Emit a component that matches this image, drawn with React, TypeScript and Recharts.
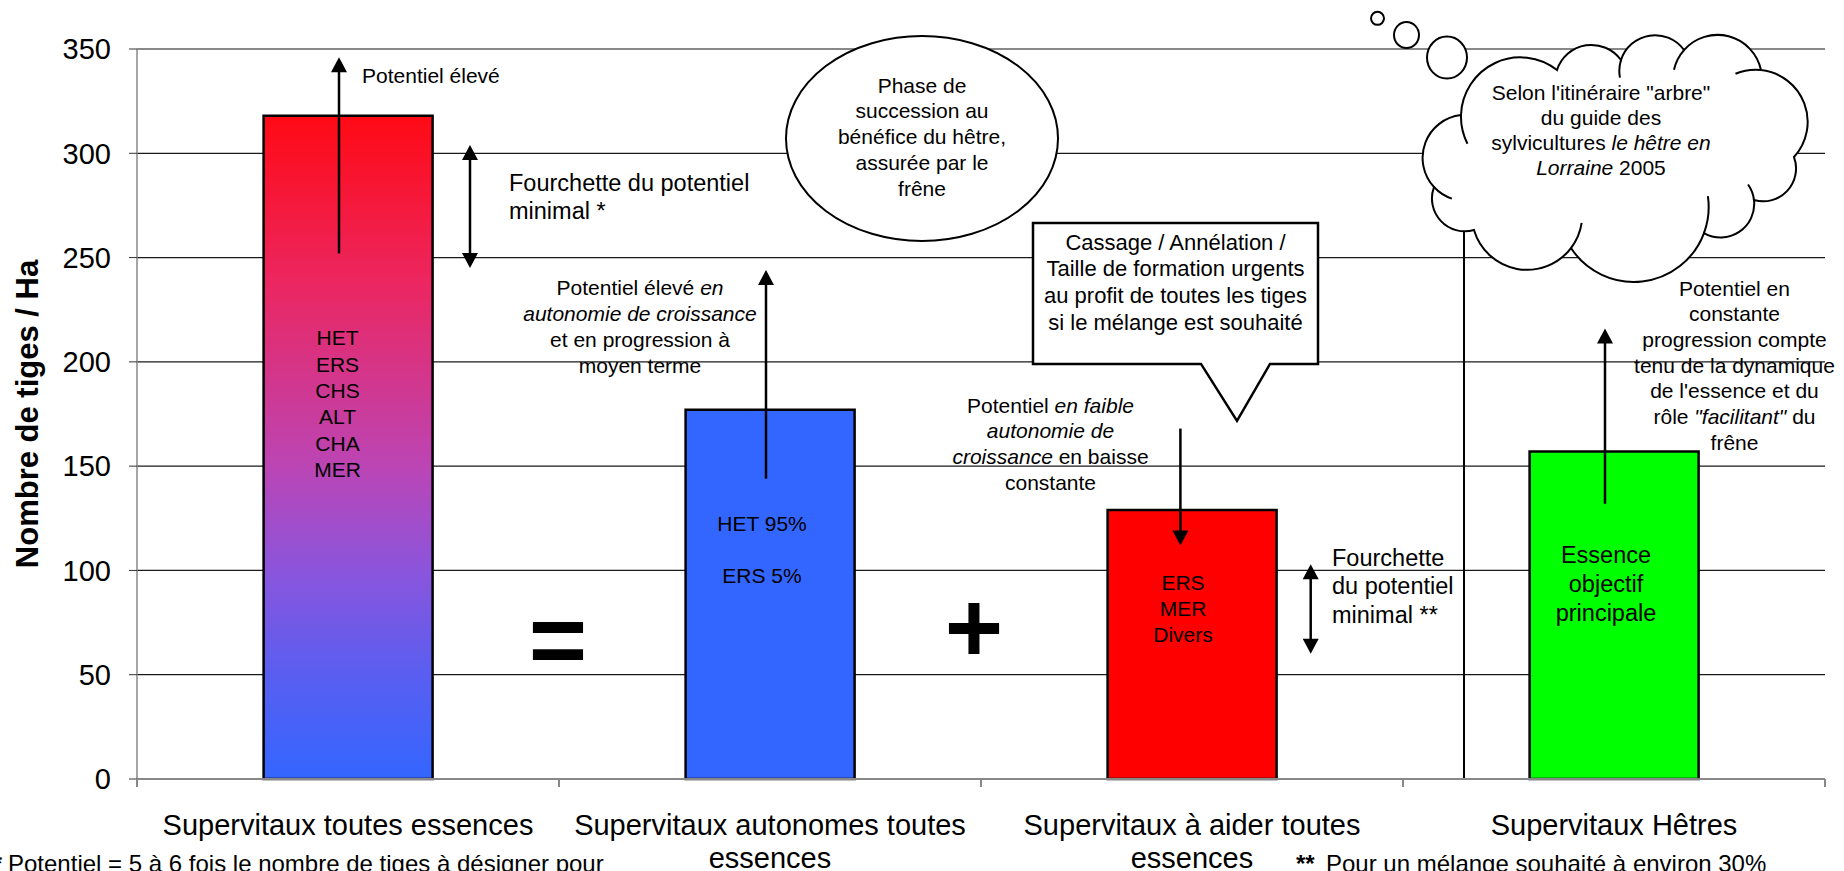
import React from "react";
import {
  BarChart,
  Bar,
  XAxis,
  YAxis,
  CartesianGrid,
  Cell,
  ReferenceLine,
  ReferenceDot,
} from "recharts";

const FONT = "'Liberation Sans', Arial, Helvetica, sans-serif";

// values
const categories = [
  "Supervitaux toutes essences",
  "Supervitaux autonomes toutes essences",
  "Supervitaux à aider toutes essences",
  "Supervitaux Hêtres",
];
const categoryLines = [
  ["Supervitaux toutes essences"],
  ["Supervitaux autonomes toutes", "essences"],
  ["Supervitaux à aider toutes", "essences"],
  ["Supervitaux Hêtres"],
];
const stemsPerHa = [318, 177, 129, 157];
const yTicks = [0, 50, 100, 150, 200, 250, 300, 350];
const barFills = ["url(#gradAll)", "#3366FF", "#FF0000", "#00FF00"];

// texts inside the bars ( _ toggles italic )
const barTexts = [
  ["HET", "ERS", "CHS", "ALT", "CHA", "MER"],
  ["HET 95%", "", "ERS 5%"],
  ["ERS", "MER", "Divers"],
  ["Essence", "objectif", "principale"],
];

const noteHigh = ["Potentiel élevé"];
const noteRange1 = ["Fourchette du potentiel", "minimal *"];
const noteEllipse = ["Phase de", "succession au", "bénéfice du hêtre,", "assurée par le", "frêne"];
const noteAuto = ["Potentiel élevé _en_", "_autonomie de croissance_", "et en progression à", "moyen terme"];
const noteCallout = [
  "Cassage / Annélation /",
  "Taille de formation urgents",
  "au profit de toutes les tiges",
  "si le mélange est souhaité",
];
const noteLow = ["Potentiel _en faible_", "_autonomie de_", "_croissance_ en baisse", "constante"];
const noteRange2 = ["Fourchette", "du potentiel", "minimal **"];
const noteCloud = ["Selon l'itinéraire \"arbre\"", "du guide des", "sylvicultures _le hêtre en_", "_Lorraine_ 2005"];
const noteBeech = [
  "Potentiel en",
  "constante",
  "progression compte",
  "tenu de la dynamique",
  "de l'essence et du",
  "rôle _\"facilitant\"_ du",
  "frêne",
];

const data = categories.map((name, i) => ({ name, stems: stemsPerHa[i] }));

function TextBlock({ cx, cy, lines, size = 21, lh = 25.8, anchor = "middle", weight = "normal" }: any) {
  return (
    <text
      fontFamily={FONT}
      fontSize={size}
      fill="#000"
      textAnchor={anchor}
      fontWeight={weight}
      style={{ whiteSpace: "pre" }}
    >
      {lines.map((ln: string, i: number) => (
        <tspan key={i} x={cx} y={cy + i * lh + size * 0.36}>
          {ln.split("_").map((seg, j) => (
            <tspan key={j} fontStyle={j % 2 ? "italic" : "normal"}>
              {seg}
            </tspan>
          ))}
        </tspan>
      ))}
    </text>
  );
}

function ArrowPath({ x1, y1, y2, dx, both }: any) {
  const x = x1 + dx;
  const d = y2 > y1 ? 1 : -1;
  const L = 15;
  const W = 8;
  const head = (tip: number, dir: number) =>
    `M${x},${tip}L${x - W},${tip - dir * L}L${x + W},${tip - dir * L}Z`;
  const start = both ? y1 + d * (L - 2) : y1;
  return (
    <g>
      <line x1={x} y1={start} x2={x} y2={y2 - d * (L - 2)} stroke="#000" strokeWidth={2.5} />
      <path d={head(y2, d)} fill="#000" />
      {both && <path d={head(y1, -d)} fill="#000" />}
    </g>
  );
}

// outline of the thought cloud, lobes between these points
const CLOUD_PTS = [
  [-156, -42], [-60, -87], [4, -97], [67, -107], [144, -87], [177, 0],
  [137, 43], [87, 76], [-46, 91], [-143, 73], [-183, 30],
];
const CLOUD_K = 0.56;

function Cloud({ cx, cy }: any) {
  const n = CLOUD_PTS.length;
  let d = `M${cx + CLOUD_PTS[0][0]},${cy + CLOUD_PTS[0][1]}`;
  const creases: string[] = [];
  for (let i = 0; i < n; i++) {
    const a = CLOUD_PTS[i];
    const b = CLOUD_PTS[(i + 1) % n];
    const c = Math.hypot(b[0] - a[0], b[1] - a[1]);
    const r = CLOUD_K * c;
    d += `A${r},${r} 0 0 1 ${cx + b[0]},${cy + b[1]}`;
    // inner crease: continue the lobe circle a little before its start point
    const ux = (b[0] - a[0]) / c;
    const uy = (b[1] - a[1]) / c;
    const h = Math.sqrt(r * r - (c * c) / 4);
    const ox = (a[0] + b[0]) / 2 - uy * h;
    const oy = (a[1] + b[1]) / 2 + ux * h;
    const ta = Math.atan2(a[1] - oy, a[0] - ox) - 0.5;
    const sx = ox + r * Math.cos(ta);
    const sy = oy + r * Math.sin(ta);
    if (i % 4 !== 1) {
      creases.push(`M${cx + sx},${cy + sy}A${r},${r} 0 0 1 ${cx + a[0]},${cy + a[1]}`);
    }
  }
  return (
    <g stroke="#000" strokeWidth={2}>
      <path d={d + "Z"} fill="#fff" />
      <path d={creases.join("")} fill="none" />
      <ellipse cx={cx - 239.5} cy={cy - 138.7} rx={6.5} ry={6.5} fill="#fff" />
      <ellipse cx={cx - 210.5} cy={cy - 122} rx={12.5} ry={13} fill="#fff" />
      <ellipse cx={cx - 170} cy={cy - 99.5} rx={20} ry={21} fill="#fff" />
    </g>
  );
}

const arrow = (key: string, cat: number, from: number, to: number, dx: number, both = false) => (
  <ReferenceLine
    key={key}
    segment={[
      { x: categories[cat], y: from },
      { x: categories[cat], y: to },
    ]}
    shape={(p: any) => <ArrowPath {...p} dx={dx} both={both} />}
  />
);

const note = (key: string, cat: number, value: number, lines: string[], dx: number, opts: any = {}) => (
  <ReferenceDot
    key={key}
    x={categories[cat]}
    y={value}
    r={0}
    shape={(p: any) => <TextBlock cx={p.cx + dx} cy={p.cy} lines={lines} {...opts} />}
  />
);

const shape = (key: string, cat: number, value: number, draw: (cx: number, cy: number) => any) => (
  <ReferenceDot key={key} x={categories[cat]} y={value} r={0} shape={(p: any) => draw(p.cx, p.cy)} />
);

const renderCatTick = (p: any) => {
  const { x, y, index, payload } = p;
  const half = payload && payload.offset ? payload.offset : 211;
  const lines = categoryLines[index] || [];
  return (
    <g>
      <line x1={x - half} y1={y} x2={x - half} y2={y + 8} stroke="#888" strokeWidth={2} />
      {index === categories.length - 1 && (
        <line x1={x + half} y1={y} x2={x + half} y2={y + 8} stroke="#888" strokeWidth={2} />
      )}
      <text textAnchor="middle" fontSize={29} fontFamily={FONT} fill="#000">
        {lines.map((l, i) => (
          <tspan key={i} x={x} y={y + 56 + i * 32.5}>
            {l}
          </tspan>
        ))}
      </text>
    </g>
  );
};

const renderYLabel = (p: any) => {
  const vb = p.viewBox || { x: 0, y: 49, width: 137, height: 730 };
  const x = vb.x + 38;
  const y = vb.y + vb.height / 2;
  return (
    <text
      x={x}
      y={y}
      transform={`rotate(-90, ${x}, ${y})`}
      textAnchor="middle"
      fontSize={31}
      fontWeight="bold"
      fontFamily={FONT}
      fill="#000"
    >
      Nombre de tiges / Ha
    </text>
  );
};

export default function App() {
  return (
    <div
      style={{
        position: "absolute",
        left: 0,
        top: 0,
        width: 1844,
        height: 871,
        background: "#fff",
        overflow: "hidden",
      }}
    >
      <BarChart
        width={1844}
        height={871}
        data={data}
        margin={{ top: 49, right: 19, bottom: 0, left: 0 }}
        barCategoryGap="30%"
      >
        <defs>
          <linearGradient id="gradAll" x1="0" y1="0" x2="0" y2="1">
            <stop offset="0" stopColor="#FF0A14" />
            <stop offset="0.25" stopColor="#EC2660" />
            <stop offset="0.53" stopColor="#BB45B5" />
            <stop offset="0.69" stopColor="#8A55DD" />
            <stop offset="0.84" stopColor="#5A5EF0" />
            <stop offset="1" stopColor="#3366FF" />
          </linearGradient>
        </defs>
        <CartesianGrid vertical={false} stroke="#1a1a1a" strokeWidth={1.3} />
        <XAxis
          dataKey="name"
          height={92}
          interval={0}
          axisLine={{ stroke: "#888", strokeWidth: 2 }}
          tickLine={false}
          tickSize={0}
          tickMargin={0}
          tick={renderCatTick}
        />
        <YAxis
          domain={[0, 350]}
          ticks={yTicks}
          interval={0}
          width={137}
          tickSize={8}
          tickMargin={18}
          tickLine={{ stroke: "#333" }}
          axisLine={{ stroke: "#888", strokeWidth: 1.5 }}
          tick={{ fontSize: 29, fill: "#000", fontFamily: FONT }}
          label={renderYLabel}
        />
        <ReferenceLine y={350} stroke="#888" strokeWidth={2} />
        <Bar dataKey="stems" stroke="#000" strokeWidth={2.5} isAnimationActive={false}>
          {stemsPerHa.map((_, i) => (
            <Cell key={i} fill={barFills[i]} />
          ))}
        </Bar>

        <ReferenceLine
          segment={[
            { x: categories[3], y: 0 },
            { x: categories[3], y: 280 },
          ]}
          shape={(p: any) => (
            <line x1={p.x1 - 150} y1={p.y1} x2={p.x2 - 150} y2={p.y2} stroke="#000" strokeWidth={2} />
          )}
        />

        {arrow("a1", 0, 252, 346, -9)}
        {arrow("a2", 0, 245, 304, 122, true)}
        {arrow("a3", 1, 144, 244, -4)}
        {arrow("a4", 2, 168, 112, -11.6)}
        {arrow("a5", 2, 60, 103, 118.7, true)}
        {arrow("a6", 3, 132, 216, -9)}

        {shape("ellipse", 1, 307.1, (cx, cy) => (
          <ellipse cx={cx + 152} cy={cy} rx={136} ry={102.5} fill="#fff" stroke="#000" strokeWidth={2} />
        ))}
        {shape("callout", 2, 266.6, (cx, cy) => (
          <path
            d={`M${cx - 159},${cy}H${cx + 126}V${cy + 141}H${cx + 78}L${cx + 45},${cy + 198}L${cx + 9},${
              cy + 141
            }H${cx - 159}Z`}
            fill="#fff"
            stroke="#000"
            strokeWidth={2.5}
          />
        ))}
        {shape("cloud", 3, 298.2, (cx, cy) => <Cloud cx={cx + 3} cy={cy} />)}

        {note("t1", 0, 337.5, noteHigh, 14, { anchor: "start" })}
        {note("t2", 0, 286.2, noteRange1, 161, { anchor: "start", size: 23.5, lh: 28 })}
        {note("t3", 1, 332.7, noteEllipse, 152)}
        {note("t4", 1, 235.6, noteAuto, -130)}
        {note("t5", 2, 257.6, noteCallout, -16.5, { size: 22, lh: 26.7 })}
        {note("t6", 2, 179.3, noteLow, -141.5, { lh: 25.7 })}
        {note("t7", 2, 106.4, noteRange2, 140, { anchor: "start", size: 23.5, lh: 28.5 })}
        {note("t8", 3, 329.4, noteCloud, -13, { lh: 25 })}
        {note("t9", 3, 235.4, noteBeech, 120.5, { lh: 25.7 })}

        {note("b1", 0, 211.6, barTexts[0], -10.5, { lh: 26.4 })}
        {note("b2", 1, 122.3, barTexts[1], -8, { lh: 26 })}
        {note("b3", 2, 94.1, barTexts[2], -9, { lh: 25.7 })}
        {note("b4", 3, 107.4, barTexts[3], -8, { size: 23.5, lh: 28.8 })}

        {note("eq", 0, 67.4, ["="], 210, { size: 100, weight: "bold" })}
        {note("plus", 1, 73.4, ["+"], 204, { size: 100, weight: "bold" })}
      </BarChart>

      <svg
        width={1844}
        height={871}
        style={{ position: "absolute", left: 0, top: 0, pointerEvents: "none" }}
      >
        <text x={2} y={872} textAnchor="end" fontSize={24} fontWeight="bold" fontFamily={FONT}>
          *
        </text>
        <text x={8} y={872} fontSize={24} fontFamily={FONT}>
          Potentiel = 5 à 6 fois le nombre de tiges à désigner pour
        </text>
        <text x={1296} y={872} fontSize={24} fontWeight="bold" fontFamily={FONT}>
          **
        </text>
        <text x={1326} y={872} fontSize={24} fontFamily={FONT}>
          Pour un mélange souhaité à environ 30%
        </text>
      </svg>
    </div>
  );
}
